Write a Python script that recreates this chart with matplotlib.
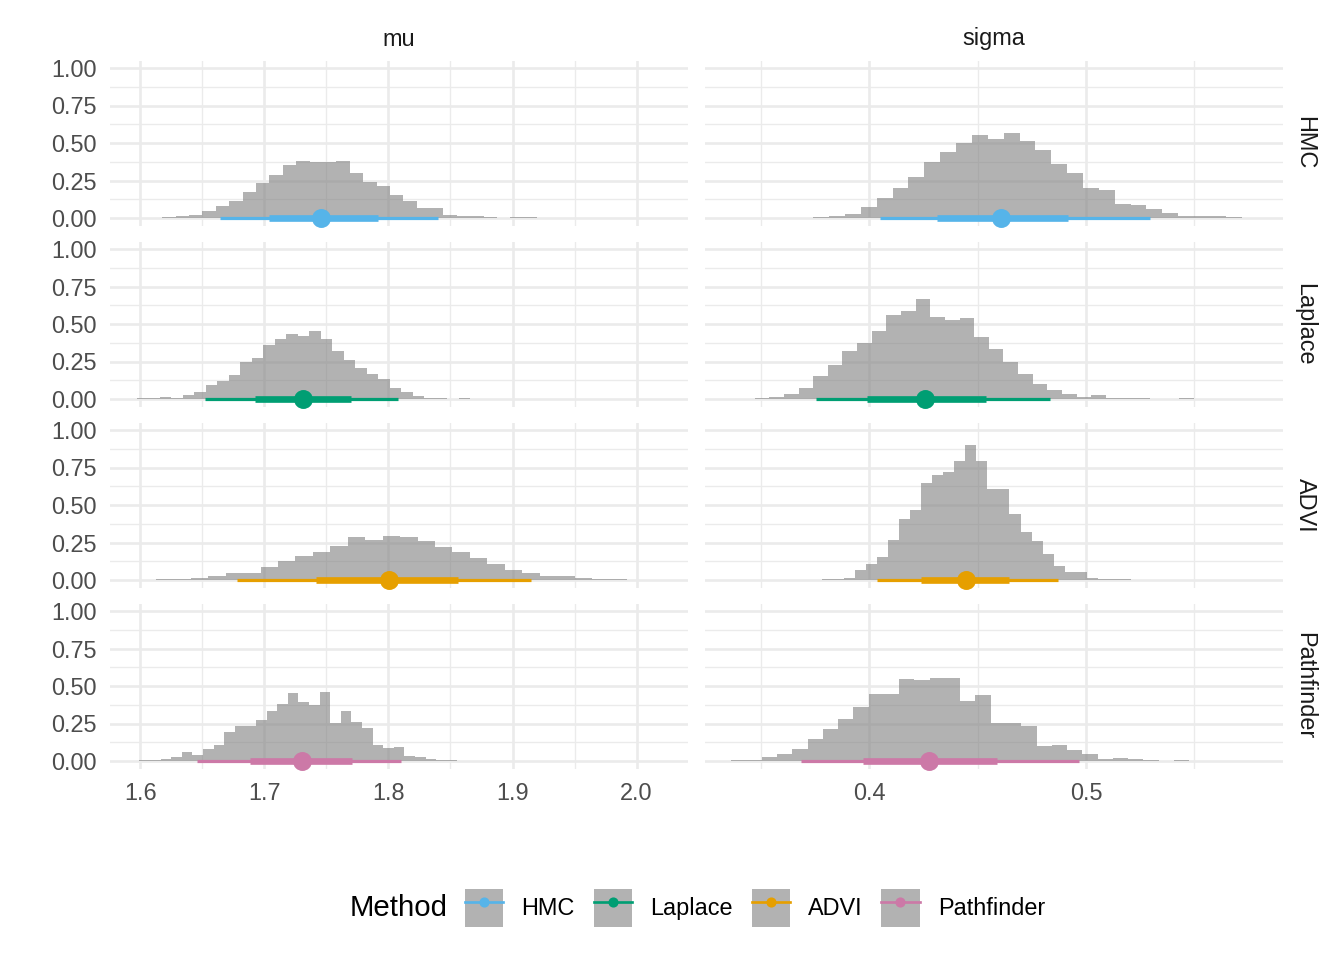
import matplotlib
matplotlib.use("Agg")
import matplotlib.pyplot as plt
import numpy as np
from matplotlib.lines import Line2D
from matplotlib.patches import Patch
from matplotlib.legend_handler import HandlerTuple
from matplotlib.ticker import MultipleLocator, FixedLocator

plt.rcParams['font.family'] = ['Liberation Sans', 'DejaVu Sans']

methods = ["HMC", "Laplace", "ADVI", "Pathfinder"]
params = ["mu", "sigma"]
method_colors = ["#56B4E9", "#009E73", "#E69F00", "#CC79A7"]

# histogram bins: first left edge, bin width, bar heights
mu_start = [1.6178, 1.5972, 1.6126, 1.5994]
mu_width = [0.01079, 0.00927, 0.01406, 0.00854]
sigma_start = [0.37426, 0.34723, 0.37825, 0.33648]
sigma_width = [0.007316, 0.006748, 0.005088, 0.007036]

hmc_mu = [0.008, 0.012, 0.022, 0.044, 0.082, 0.115, 0.175, 0.235, 0.288, 0.354,
          0.38, 0.374, 0.374, 0.38, 0.30, 0.241, 0.215, 0.155, 0.115, 0.069,
          0.069, 0.022, 0.015, 0.015, 0.008, 0.0, 0.008, 0.008]
laplace_mu = [0.008, 0.008, 0.015, 0.01, 0.027, 0.049, 0.093, 0.122, 0.159, 0.246,
              0.274, 0.363, 0.40, 0.434, 0.42, 0.454, 0.40, 0.32, 0.261, 0.208,
              0.17, 0.135, 0.075, 0.049, 0.02, 0.01, 0.01, 0.0, 0.008]
advi_mu = [0.008, 0.008, 0.011, 0.024, 0.044, 0.044, 0.084, 0.124, 0.157, 0.184,
           0.23, 0.29, 0.27, 0.296, 0.29, 0.263, 0.223, 0.19, 0.144, 0.104,
           0.064, 0.044, 0.024, 0.024, 0.013, 0.008, 0.008]
pathfinder_mu = [0.008, 0.008, 0.015, 0.029, 0.062, 0.042, 0.082, 0.108, 0.195, 0.235,
                 0.235, 0.274, 0.334, 0.38, 0.454, 0.394, 0.372, 0.46, 0.254, 0.334,
                 0.261, 0.221, 0.108, 0.088, 0.095, 0.035, 0.027, 0.015, 0.01, 0.01]

hmc_sigma = [0.008, 0.011, 0.029, 0.075, 0.135, 0.20, 0.274, 0.373, 0.44, 0.50,
             0.552, 0.525, 0.565, 0.512, 0.452, 0.36, 0.30, 0.20, 0.188, 0.095,
             0.088, 0.062, 0.035, 0.015, 0.015, 0.015, 0.008]
laplace_sigma = [0.01, 0.015, 0.035, 0.075, 0.154, 0.227, 0.32, 0.372, 0.452, 0.557,
                 0.59, 0.67, 0.55, 0.53, 0.537, 0.412, 0.333, 0.247, 0.167, 0.10,
                 0.062, 0.035, 0.015, 0.029, 0.008, 0.008, 0.008, 0.0, 0.0, 0.008]
advi_sigma = [0.008, 0.008, 0.016, 0.069, 0.109, 0.155, 0.268, 0.408, 0.468, 0.647,
              0.70, 0.72, 0.794, 0.90, 0.794, 0.608, 0.608, 0.441, 0.322, 0.262,
              0.175, 0.095, 0.055, 0.055, 0.016, 0.01, 0.008, 0.008]
pathfinder_sigma = [0.01, 0.01, 0.027, 0.047, 0.08, 0.146, 0.213, 0.279, 0.359, 0.446,
                    0.446, 0.545, 0.539, 0.552, 0.552, 0.40, 0.439, 0.253, 0.253, 0.233,
                    0.10, 0.106, 0.073, 0.047, 0.015, 0.02, 0.015, 0.008, 0.0, 0.008]

# point + 66% / 95% intervals
mu_point = [1.7457, 1.7309, 1.8007, 1.7300]
mu_inner = [(1.7039, 1.7915), (1.6922, 1.7696), (1.7417, 1.8560), (1.6885, 1.7709)]
mu_outer = [(1.6642, 1.8400), (1.6519, 1.8074), (1.6781, 1.9153), (1.6455, 1.8102)]
sigma_point = [0.4606, 0.4259, 0.4446, 0.4276]
sigma_inner = [(0.4311, 0.4916), (0.3991, 0.4540), (0.4240, 0.4646), (0.3970, 0.4588)]
sigma_outer = [(0.4051, 0.5294), (0.3753, 0.4836), (0.4037, 0.4871), (0.3687, 0.4966)]

mu_ticks = [1.6, 1.7, 1.8, 1.9, 2.0]
sigma_ticks = [0.4, 0.5]
y_ticks = [0.0, 0.25, 0.5, 0.75, 1.0]

heights = {
    "mu": [hmc_mu, laplace_mu, advi_mu, pathfinder_mu],
    "sigma": [hmc_sigma, laplace_sigma, advi_sigma, pathfinder_sigma],
}
starts = {"mu": mu_start, "sigma": sigma_start}
widths = {"mu": mu_width, "sigma": sigma_width}
points = {"mu": mu_point, "sigma": sigma_point}
inners = {"mu": mu_inner, "sigma": sigma_inner}
outers = {"mu": mu_outer, "sigma": sigma_outer}
xlims = {"mu": (1.5757, 2.0414), "sigma": (0.32434, 0.59086)}
xticks = {"mu": mu_ticks, "sigma": sigma_ticks}

W, H = 1344, 960
fig = plt.figure(figsize=(7, 5), dpi=192)
fig.patch.set_facecolor("white")

col_left = [110, 705]
col_w = 578
row_top0, row_step, row_h = 60.5, 181, 165
grid_col = "#EBEBEB"
txt_col = "#4D4D4D"
hist_col = "#808080"

for i, m in enumerate(methods):
    top = row_top0 + row_step * i
    for j, p in enumerate(params):
        ax = fig.add_axes([col_left[j] / W, 1 - (top + row_h) / H, col_w / W, row_h / H])
        for s in ax.spines.values():
            s.set_visible(False)
        ax.set_xlim(*xlims[p])
        ax.set_ylim(-0.05, 1.05)

        ax.xaxis.set_major_locator(FixedLocator(xticks[p]))
        ax.xaxis.set_minor_locator(MultipleLocator(0.05))
        ax.yaxis.set_major_locator(FixedLocator(y_ticks))
        ax.yaxis.set_minor_locator(FixedLocator([0.125, 0.375, 0.625, 0.875]))
        ax.grid(which="major", color=grid_col, lw=1.0)
        ax.grid(which="minor", color=grid_col, lw=0.5)
        ax.set_axisbelow(True)
        ax.tick_params(which="both", length=0, pad=4.9, labelsize=8.8, labelcolor=txt_col)

        if i < 3:
            ax.tick_params(axis="x", labelbottom=False)
        else:
            ax.set_xticklabels([f"{t:.1f}" for t in xticks[p]])
        if j == 1:
            ax.tick_params(axis="y", labelleft=False)
        else:
            ax.set_yticklabels([f"{t:.2f}" for t in y_ticks])

        h = np.array(heights[p][i])
        edges = starts[p][i] + widths[p][i] * np.arange(len(h) + 1)
        ax.stairs(h, edges, fill=True, color=hist_col, alpha=0.6, lw=0)

        c = method_colors[i]
        lo, hi = outers[p][i]
        ax.plot([lo, hi], [0, 0], color=c, lw=1.2, solid_capstyle="butt")
        lo, hi = inners[p][i]
        ax.plot([lo, hi], [0, 0], color=c, lw=2.5, solid_capstyle="butt")
        ax.plot(points[p][i], 0, "o", color=c, ms=7.1, mew=0, clip_on=False)

        if i == 0:
            ax.text(0.5, 1 + (top - 39) / row_h, p, transform=ax.transAxes,
                    ha="center", va="center", fontsize=8.8, color="#1A1A1A")
        if j == 1:
            ax.text(1 + (1305 - 1283) / col_w, 0.5, m, transform=ax.transAxes,
                    ha="center", va="center", rotation=270, fontsize=8.8, color="#1A1A1A")

fig.text(350 / W, 1 - 908 / H, "Method", ha="left", va="center", fontsize=11, color="black")

handles = [(Patch(facecolor=hist_col, alpha=0.6, lw=0),
            Line2D([], [], color=c, lw=1.0, marker="o", ms=3.8, mew=0))
           for c in method_colors]
fig.legend(handles, methods, handler_map={tuple: HandlerTuple(ndivide=1, pad=0)},
           loc="center left", bbox_to_anchor=(465 / W, 1 - 908 / H), ncol=4,
           frameon=False, fontsize=8.8, handlelength=1.62, handleheight=2.12,
           handletextpad=0.78, columnspacing=0.81, borderpad=0, borderaxespad=0)

fig.savefig("out.png", dpi=192, facecolor="white")
